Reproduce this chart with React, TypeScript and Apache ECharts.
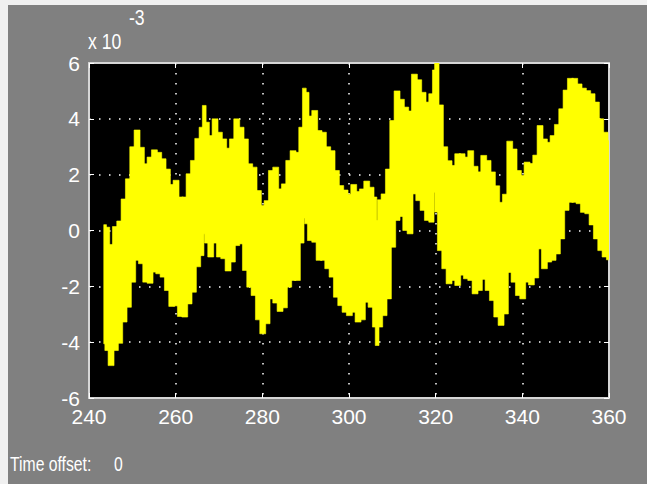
import React, { useEffect, useRef } from "react";
import * as echarts from "echarts";

// time samples (s)
const time = [
  243.5, 244, 245, 246, 247, 248, 249, 250, 251, 252, 253, 254, 255, 256, 257, 258, 259, 260,
  261, 262, 263, 264, 265, 266, 266.5, 267, 268, 269, 270, 271, 272, 273, 274, 275, 276, 277, 278, 279, 280,
  281, 282, 283, 284, 285, 286, 287, 288, 289, 289.7, 290, 291, 292, 293, 294, 295, 296, 297, 298, 299, 300,
  301, 302, 303, 304, 305, 306, 306.3, 307, 308, 309, 310, 311, 312, 313, 314, 315, 316, 317, 318, 319, 319.7, 320,
  321, 322, 323, 324, 325, 326, 327, 328, 329, 330, 331, 332, 333, 334, 335, 336, 337, 338, 339, 340,
  341, 342, 343, 344, 345, 346, 347, 348, 349, 350, 351, 352, 353, 354, 355, 356, 357, 358, 359, 360,
];

// upper envelope of the signal (x 1e-3)
const upperE3 = [
  0.21, 0.12, -0.5, 0.14, 0.34, 1.13, 1.85, 3.0, 3.6, 2.98, 2.39, 2.63, 2.89, 2.8, 2.57, 2.2, 1.65, 1.8,
  1.2, 1.2, 2.03, 2.51, 3.3, 3.7, 4.48, 3.88, 3.4, 4.0, 3.52, 3.28, 2.95, 3.28, 4.0, 3.7, 3.28, 2.39, 2.27, 1.43, 0.9,
  1.07, 2.15, 2.27, 1.49, 1.67, 2.51, 2.86, 2.8, 3.7, 5.1, 4.95, 4.1, 4.3, 3.58, 3.52, 3.0, 2.86, 2.15, 1.61, 1.45, 1.3,
  1.65, 1.4, 1.49, 1.77, 1.55, 1.2, 0.36, 1.1, 1.31, 2.2, 3.94, 5.0, 4.7, 4.42, 4.28, 5.6, 5.4, 4.95, 4.6, 4.9, 5.75, 6.0,
  4.5, 3.0, 2.5, 2.33, 2.75, 2.75, 2.63, 2.86, 2.3, 2.1, 2.69, 2.51, 2.1, 1.6, 1.01, 1.3, 3.2, 2.92, 2.15, 1.97,
  2.45, 2.4, 2.7, 3.76, 3.28, 3.16, 3.4, 3.8, 4.36, 5.03, 5.45, 5.45, 5.25, 5.1, 5.01, 4.9, 4.6, 4.0, 3.52, 3.22,
];

// lower envelope of the signal (x 1e-3)
const lowerE3 = [
  -4.06, -4.3, -4.84, -4.3, -4.04, -3.28, -2.75, -1.85, -1.07, -1.19, -1.85, -1.89, -1.49, -1.55, -1.67, -2.15, -2.72, -2.7,
  -3.08, -3.1, -2.63, -2.21, -1.3, -0.9, -0.12, -0.45, -0.95, -0.45, -0.95, -1.01, -1.45, -1.13, -0.54, -0.48, -1.43, -2.03, -2.33, -3.2, -3.7,
  -3.34, -2.45, -2.6, -2.9, -2.77, -2.03, -1.79, -1.79, -0.45, 0.45, 0.24, -0.36, -0.42, -1.07, -1.07, -1.37, -1.67, -2.39, -2.69, -2.93, -3.05,
  -2.93, -3.28, -3.2, -2.57, -2.75, -3.46, -4.12, -3.46, -3.05, -2.45, -0.6, 0.36, 0.5, 0.0, -0.12, 1.31, 1.07, 0.72, 0.36, 0.3, 1.37, 0.66,
  -0.72, -1.37, -1.91, -1.79, -1.97, -1.6, -1.73, -1.79, -2.27, -2.15, -1.75, -2.15, -2.51, -3.1, -3.4, -2.99, -1.5, -1.85, -2.33, -2.45,
  -1.85, -1.95, -1.7, -0.66, -1.37, -1.13, -1.07, -0.84, -0.3, 0.72, 1.01, 1.01, 0.96, 0.65, 0.6, 0.2, -0.3, -0.72, -0.95, -1.05,
];

const xTicks = { min: 240, max: 360, interval: 20 };
const yTicks = { min: -6, max: 6, interval: 2 };

const FONT = "'Liberation Sans', Arial, sans-serif";

export default function App() {
  const ref = useRef<HTMLDivElement>(null);
  useEffect(() => {
    if (!ref.current) return;
    const chart = echarts.init(ref.current, undefined, { renderer: "svg" });
    const n = Math.min(time.length, upperE3.length, lowerE3.length);
    // each sample covers the span between the midpoints to its neighbours (stepped trace)
    const bandData: number[][] = [];
    for (let i = 0; i < n; i++) {
      const l = i === 0 ? time[0] : (time[i - 1] + time[i]) / 2;
      const r = i === n - 1 ? time[n - 1] : (time[i] + time[i + 1]) / 2;
      bandData.push([time[i], upperE3[i], lowerE3[i], l, r]);
    }
    const frame = { show: true, onZero: false, lineStyle: { color: "#d6d6d6", width: 2 } };
    const tick = { show: true, inside: true, length: 5, lineStyle: { color: "#ffffff", width: 1 } };
    const dotted = { show: true, lineStyle: { color: "#ffffff", width: 1.5, type: [1.5, 8.5] as any } };
    const label = { color: "#ffffff", fontSize: 21, fontFamily: FONT };
    chart.setOption({
      animation: false,
      backgroundColor: "#808080",
      grid: { left: 89, top: 63, width: 520, height: 335, show: true, backgroundColor: "#000000", borderWidth: 0 },
      xAxis: [
        {
          type: "value", position: "bottom", ...xTicks,
          axisLine: frame, axisTick: tick, splitLine: dotted,
          axisLabel: { ...label, margin: 8 },
        },
        {
          type: "value", position: "top", ...xTicks,
          axisLine: frame, axisTick: tick, splitLine: { show: false }, axisLabel: { show: false },
        },
      ],
      yAxis: [
        {
          type: "value", position: "left", ...yTicks,
          axisLine: frame, axisTick: tick, splitLine: dotted,
          axisLabel: { ...label, margin: 9 },
        },
        {
          type: "value", position: "right", ...yTicks,
          axisLine: frame, axisTick: tick, splitLine: { show: false }, axisLabel: { show: false },
        },
      ],
      series: [
        {
          type: "custom",
          name: "signal",
          data: bandData,
          clip: true,
          silent: true,
          encode: { x: [0, 3, 4], y: [1, 2] },
          renderItem: (params: any, api: any) => {
            const p0 = api.coord([api.value(3), api.value(1)]);
            const p1 = api.coord([api.value(4), api.value(2)]);
            return {
              type: "rect",
              shape: { x: p0[0] - 0.4, y: p0[1], width: p1[0] - p0[0] + 1.6, height: p1[1] - p0[1] },
              style: { fill: "#ffff00", stroke: "#ffff00", lineWidth: 0.6 },
            };
          },
        },
      ],
      graphic: [
        { type: "rect", shape: { x: 0, y: 0, width: 647, height: 5 }, style: { fill: "#f0f0f0" }, silent: true },
        { type: "rect", shape: { x: 0, y: 0, width: 8, height: 484 }, style: { fill: "#f0f0f0" }, silent: true },
        {
          type: "text", x: 88, y: 41, scaleX: 0.8,
          style: { text: "x 10", fill: "#ffffff", fontSize: 22, fontFamily: FONT, verticalAlign: "middle", align: "left" },
        },
        {
          type: "text", x: 129, y: 17, scaleX: 0.8,
          style: { text: "-3", fill: "#ffffff", fontSize: 22, fontFamily: FONT, verticalAlign: "middle", align: "left" },
        },
        {
          type: "text", x: 10, y: 464, scaleX: 0.75,
          style: { text: "Time offset:", fill: "#ffffff", fontSize: 21, fontFamily: FONT, verticalAlign: "middle", align: "left" },
        },
        {
          type: "text", x: 114, y: 464, scaleX: 0.75,
          style: { text: "0", fill: "#ffffff", fontSize: 21, fontFamily: FONT, verticalAlign: "middle", align: "left" },
        },
      ],
    });
    return () => chart.dispose();
  }, []);
  return (
    <div
      ref={ref}
      style={{ position: "absolute", left: 0, top: 0, width: 647, height: 484 }}
    />
  );
}
